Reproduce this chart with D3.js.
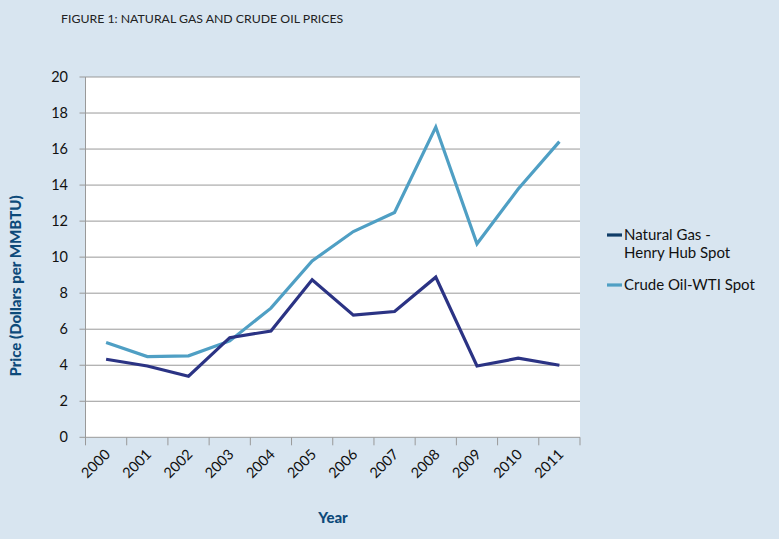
<!DOCTYPE html>
<html><head><meta charset="utf-8">
<script src="https://cdn.jsdelivr.net/npm/d3@7"></script>
<style>
html,body{margin:0;padding:0;background:#d8e5f0;}
svg{display:block;}
text{font-family:"Lato","Open Sans",sans-serif;}
</style></head>
<body>
<svg id="chart" width="779" height="539"></svg>
<script>
const years = ["2000","2001","2002","2003","2004","2005","2006","2007","2008","2009","2010","2011"];
const naturalGas = [4.33, 3.96, 3.39, 5.53, 5.9, 8.74, 6.78, 6.98, 8.89, 3.96, 4.39, 4.0];
const crudeOil = [5.26, 4.48, 4.52, 5.35, 7.17, 9.79, 11.42, 12.48, 17.22, 10.74, 13.78, 16.41];
const yTicks = [0, 2, 4, 6, 8, 10, 12, 14, 16, 18, 20];
const seriesNames = ["Natural Gas -\nHenry Hub Spot", "Crude Oil-WTI Spot"];

const svg = d3.select("#chart");
const W = 779, H = 539;
const plot = {left: 85.5, right: 580, top: 77, bottom: 437.3};

svg.append("rect").attr("width", W).attr("height", H).attr("fill", "#d8e5f0");

svg.append("text").attr("x", 61).attr("y", 23)
  .attr("font-size", 12.3).attr("fill", "#222")
  .text("FIGURE 1: NATURAL GAS AND CRUDE OIL PRICES");

const x = d3.scaleBand().domain(years).range([plot.left, plot.right]);
const y = d3.scaleLinear().domain([0, 20]).range([plot.bottom, plot.top]);

svg.append("rect").attr("x", plot.left).attr("y", plot.top)
  .attr("width", plot.right - plot.left).attr("height", plot.bottom - plot.top)
  .attr("fill", "#fff");

// gridlines
svg.append("g").selectAll("line").data(yTicks).join("line")
  .attr("x1", plot.left - 6).attr("x2", plot.right)
  .attr("y1", d => y(d)).attr("y2", d => y(d))
  .attr("stroke", "#999").attr("stroke-width", 1);

// y axis line
svg.append("line").attr("x1", plot.left).attr("x2", plot.left)
  .attr("y1", plot.top).attr("y2", plot.bottom + 7)
  .attr("stroke", "#999");

// y tick labels
svg.append("g").selectAll("text").data(yTicks).join("text")
  .attr("x", 68).attr("y", d => y(d) + 5)
  .attr("text-anchor", "end").attr("font-size", 14.5).attr("fill", "#111")
  .text(d => d);

// x ticks
const xEdges = years.map(d => x(d)).concat([plot.right]);
svg.append("g").selectAll("line").data(xEdges).join("line")
  .attr("x1", d => d).attr("x2", d => d)
  .attr("y1", plot.bottom).attr("y2", plot.bottom + 8)
  .attr("stroke", "#999");

// x labels
svg.append("g").selectAll("text").data(years).join("text")
  .attr("transform", d => `translate(${x(d) + x.bandwidth() / 2 + 5},${plot.bottom + 18}) rotate(-45)`)
  .attr("text-anchor", "end").attr("font-size", 14.5).attr("fill", "#111")
  .text(d => d);

// axis titles
svg.append("text").attr("x", 333).attr("y", 523)
  .attr("text-anchor", "middle").attr("font-size", 15).attr("font-weight", "900")
  .attr("fill", "#0d4a7a").text("Year");
svg.append("text").attr("transform", "translate(21,286) rotate(-90)")
  .attr("text-anchor", "middle").attr("font-size", 15).attr("font-weight", "900")
  .attr("fill", "#0d4a7a").text("Price (Dollars per MMBTU)");

// lines
const line = d3.line().x((d, i) => x(years[i]) + x.bandwidth() / 2).y(d => y(d));
svg.append("path").datum(crudeOil).attr("d", line)
  .attr("fill", "none").attr("stroke", "#4f9fc4").attr("stroke-width", 3.2)
  .attr("stroke-linejoin", "miter");
svg.append("path").datum(naturalGas).attr("d", line)
  .attr("fill", "none").attr("stroke", "#2b3384").attr("stroke-width", 3.2)
  .attr("stroke-linejoin", "miter");

// legend
const lg = svg.append("g");
lg.append("line").attr("x1", 607).attr("x2", 622).attr("y1", 235).attr("y2", 235)
  .attr("stroke", "#0f3c68").attr("stroke-width", 3.2);
const t1 = lg.append("text").attr("x", 624).attr("y", 240).attr("font-size", 15).attr("fill", "#111");
seriesNames[0].split("\n").forEach((s, i) => {
  t1.append("tspan").attr("x", 624).attr("dy", i === 0 ? 0 : 18).text(s);
});
lg.append("line").attr("x1", 607).attr("x2", 622).attr("y1", 285).attr("y2", 285)
  .attr("stroke", "#4f9fc4").attr("stroke-width", 3.2);
lg.append("text").attr("x", 624).attr("y", 290).attr("font-size", 15).attr("fill", "#111")
  .text(seriesNames[1]);
</script>
</body></html>
